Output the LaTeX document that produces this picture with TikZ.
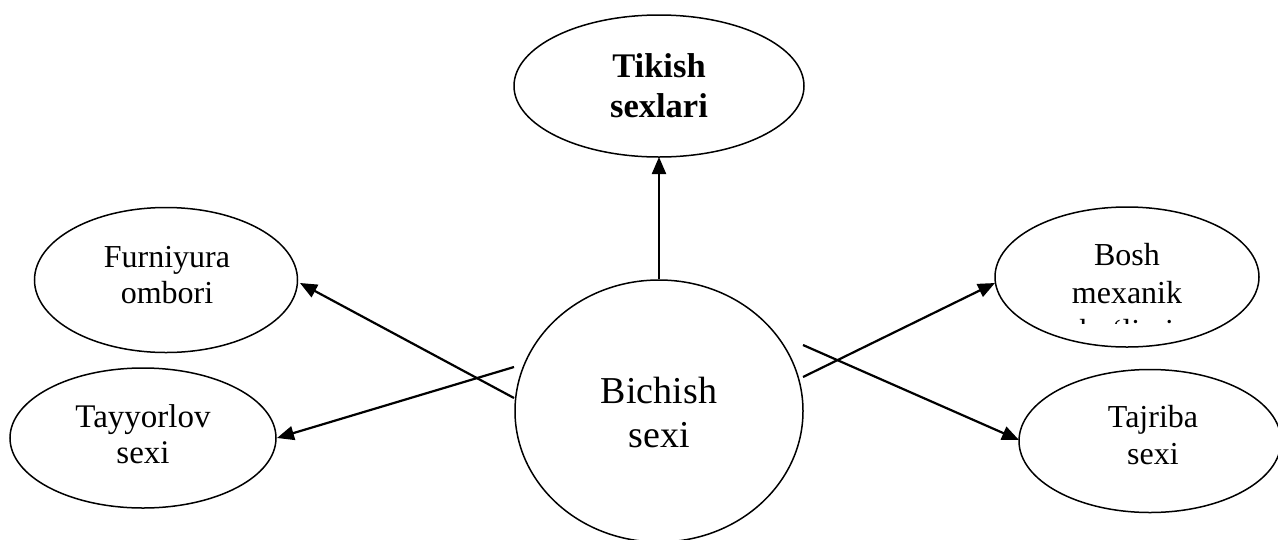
\documentclass[tikz,border=0pt]{standalone}
\usepackage{fontspec}
\setmainfont{Liberation Serif}
\usetikzlibrary{shapes.geometric,arrows.meta}
\begin{document}
\begin{tikzpicture}[x=1pt,y=-1pt,
  oval/.style={draw,ellipse,line width=1.5pt,inner sep=0pt},
  lbl/.style={align=center,inner sep=0pt,anchor=base},
  conn/.style={line width=2.2pt,-{Triangle[length=17pt,width=14pt]}}]
\useasboundingbox (0,0) rectangle (1278,539);
% ellipses
\node[oval,minimum width=290pt,minimum height=142pt] (tik) at (659,86) {};
\node[oval,minimum width=288pt,minimum height=262pt] (bich) at (659,411) {};
\node[oval,minimum width=263pt,minimum height=145pt] (furn) at (166,280) {};
\node[oval,minimum width=266pt,minimum height=140pt] (tayy) at (143,438) {};
\node[oval,minimum width=264pt,minimum height=140pt] (bosh) at (1127,277) {};
\node[oval,minimum width=262pt,minimum height=143pt] (tajr) at (1150,441) {};
% labels
\node[lbl,font=\fontsize{34.5}{40}\selectfont\bfseries] (tikt) at (659,117) {Tikish\\sexlari};
\node[lbl,font=\fontsize{38}{44}\selectfont] (bicht) at (659,447) {Bichish\\sexi};
\node[lbl,font=\fontsize{32}{36}\selectfont] (furnt) at (167,303) {Furniyura\\ombori};
\node[lbl,font=\fontsize{33}{36}\selectfont] (tayyt) at (143,463) {Tayyorlov\\sexi};
\node[lbl,font=\fontsize{32}{37}\selectfont] (tajrt) at (1153,464) {Tajriba\\sexi};
\begin{scope}
  \clip (990,220) rectangle (1265,323);
  \node[lbl,font=\fontsize{32}{38}\selectfont] (bosht) at (1127,341) {Bosh\\mexanik\\bo‘limi};
\end{scope}
% connectors
\coordinate (s1) at (659,279);
\coordinate (s2) at (514,398);
\coordinate (s3) at (514,367);
\coordinate (s4) at (803,377);
\coordinate (s5) at (803,345);
\coordinate (e1) at (659,157);
\coordinate (e2) at (300,283);
\coordinate (e3) at (277,438);
\coordinate (e4) at (995,283);
\coordinate (e5) at (1019,440);
\draw[conn] (s1) -- (e1);
\draw[conn] (s2) -- (e2);
\draw[conn] (s3) -- (e3);
\draw[conn] (s4) -- (e4);
\draw[conn] (s5) -- (e5);
\end{tikzpicture}
\end{document}
